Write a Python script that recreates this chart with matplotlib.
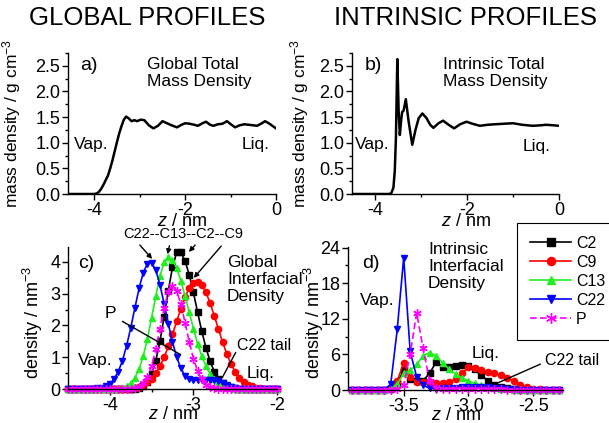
import matplotlib

matplotlib.use("Agg")

import matplotlib.pyplot as plt
from matplotlib.ticker import MultipleLocator

W, H = 609, 423

# ---- panel a: global total mass density (g/cm3) ----
z_a = [-4.58, -4.20, -4.00, -3.95, -3.90, -3.85, -3.80, -3.75, -3.70, -3.65,
       -3.60, -3.55, -3.50, -3.45, -3.40, -3.35, -3.30, -3.25, -3.18, -3.12,
       -3.06, -2.98, -2.90, -2.80, -2.70, -2.60, -2.50, -2.40, -2.30, -2.18,
       -2.08, -2.00, -1.90, -1.80, -1.72, -1.62, -1.54, -1.45, -1.38, -1.28,
       -1.18, -1.08, -0.98, -0.90, -0.80, -0.70, -0.60, -0.50, -0.42, -0.33,
       -0.24, -0.16, -0.08, 0.00]
rho_a = [0.00, 0.00, 0.00, 0.01, 0.04, 0.10, 0.18, 0.27, 0.36, 0.50,
         0.66, 0.84, 1.02, 1.19, 1.33, 1.45, 1.51, 1.48, 1.42, 1.44,
         1.42, 1.45, 1.44, 1.34, 1.28, 1.33, 1.42, 1.38, 1.34, 1.30,
         1.35, 1.38, 1.37, 1.35, 1.33, 1.38, 1.41, 1.35, 1.33, 1.36,
         1.37, 1.42, 1.35, 1.30, 1.34, 1.36, 1.35, 1.34, 1.33, 1.37,
         1.42, 1.38, 1.33, 1.28]

# ---- panel b: intrinsic total mass density (g/cm3) ----
z_b = [-4.50, -3.70, -3.65, -3.60, -3.57, -3.545, -3.515, -3.485, -3.46, -3.43,
       -3.41, -3.38, -3.33, -3.27, -3.19, -3.12, -3.05, -2.97, -2.88, -2.80,
       -2.73, -2.62, -2.52, -2.40, -2.28, -2.15, -2.01, -1.88, -1.72, -1.55,
       -1.40, -1.20, -1.00, -0.80, -0.57, -0.40, -0.28, -0.12, 0.00]
rho_b = [0.00, 0.00, 0.01, 0.12, 0.45, 1.10, 2.63, 1.60, 1.15, 1.45,
         1.60, 1.62, 1.85, 1.42, 0.96, 1.25, 1.48, 1.57, 1.48, 1.35,
         1.29, 1.38, 1.43, 1.35, 1.28, 1.36, 1.41, 1.37, 1.33, 1.35,
         1.36, 1.37, 1.38, 1.35, 1.33, 1.34, 1.35, 1.34, 1.33]

# ---- panel c: global interfacial density (nm^-3) ----
z_c = [-4.50, -4.45, -4.40, -4.35, -4.30, -4.25, -4.20, -4.15, -4.10, -4.05,
       -4.00, -3.95, -3.90, -3.85, -3.80, -3.75, -3.70, -3.65, -3.60, -3.55,
       -3.50, -3.45, -3.40, -3.35, -3.30, -3.25, -3.20, -3.15, -3.10, -3.05,
       -3.00, -2.95, -2.90, -2.85, -2.80, -2.75, -2.70, -2.65, -2.60, -2.55,
       -2.50, -2.45, -2.40, -2.35, -2.30, -2.25, -2.20, -2.15, -2.10, -2.05,
       -2.00]
c2_c = [0, 0, 0, 0, 0, 0, 0, 0, 0, 0,
        0, 0, 0, 0, 0, 0, 0.01, 0.04, 0.10, 0.23,
        0.48, 0.89, 1.50, 2.27, 3.10, 3.83, 4.30, 4.30, 4.03, 3.60,
        3.04, 2.42, 1.82, 1.30, 0.87, 0.55, 0.33, 0.19, 0.10, 0.05,
        0.02, 0, 0, 0, 0, 0, 0, 0, 0, 0,
        0]
c9_c = [0, 0, 0, 0, 0, 0, 0, 0, 0, 0,
        0, 0, 0, 0, 0.01, 0.02, 0.04, 0.07, 0.13, 0.21,
        0.33, 0.50, 0.72, 1.00, 1.34, 1.72, 2.13, 2.53, 2.89, 3.17,
        3.34, 3.38, 3.28, 3.04, 2.71, 2.30, 1.88, 1.47, 1.10, 0.78,
        0.54, 0.35, 0.22, 0.13, 0.08, 0.04, 0.02, 0.01, 0, 0,
        0]
c13_c = [0, 0, 0, 0, 0, 0, 0, 0, 0, 0,
         0, 0.01, 0.02, 0.04, 0.09, 0.18, 0.35, 0.63, 1.04, 1.58,
         2.24, 2.93, 3.56, 3.99, 4.15, 4.06, 3.80, 3.41, 2.93, 2.41,
         1.90, 1.43, 1.03, 0.72, 0.47, 0.30, 0.18, 0.10, 0.06, 0.03,
         0.01, 0, 0, 0, 0, 0, 0, 0, 0, 0,
         0]
c22_c = [0, 0, 0, 0, 0, 0, 0.01, 0.02, 0.04, 0.08,
         0.16, 0.31, 0.54, 0.88, 1.35, 1.92, 2.55, 3.17, 3.66, 3.95,
         3.98, 3.74, 3.28, 2.68, 2.05, 1.48, 1.00, 0.65, 0.42, 0.32,
         0.28, 0.27, 0.27, 0.28, 0.28, 0.27, 0.24, 0.18, 0.12, 0.07,
         0.03, 0.01, 0, 0, 0, 0, 0, 0, 0, 0,
         0]
p_c = [0, 0, 0, 0, 0, 0, 0, 0, 0, 0,
       0, 0, 0, 0, 0, 0, 0.03, 0.07, 0.18, 0.38,
       0.73, 1.25, 1.90, 2.56, 3.06, 3.25, 3.09, 2.67, 2.09, 1.49,
       0.96, 0.56, 0.30, 0.14, 0.06, 0.02, 0.01, 0, 0, 0,
       0, 0, 0, 0, 0, 0, 0, 0, 0, 0,
       0]

# ---- panel d: intrinsic interfacial density (nm^-3) ----
z_d = [-3.90, -3.85, -3.80, -3.75, -3.70, -3.65, -3.60, -3.55, -3.50, -3.45,
       -3.40, -3.35, -3.30, -3.25, -3.20, -3.15, -3.10, -3.05, -3.00, -2.95,
       -2.90, -2.85, -2.80, -2.75, -2.70, -2.65, -2.60, -2.55, -2.50, -2.45,
       -2.40, -2.35, -2.30]
c2_d = [0, 0, 0, 0, 0, 0, 0.2, 1.2, 3.3, 1.8,
        1.5, 1.6, 2.8, 4.7, 3.9, 3.8, 4.0, 4.2, 4.1, 3.6,
        2.5, 1.5, 0.9, 0.5, 0.3, 0.1, 0, 0, 0, 0,
        0, 0, 0]
c9_d = [0, 0, 0, 0, 0, 0, 0.3, 1.5, 4.6, 2.2,
        1.4, 1.3, 1.3, 1.2, 1.2, 1.3, 1.8, 2.8, 3.8, 3.7,
        3.3, 3.05, 2.8, 2.55, 2.1, 1.5, 0.9, 0.5, 0.25, 0.1,
        0, 0, 0]
c13_d = [0, 0, 0, 0, 0, 0, 0.3, 1.0, 2.8, 3.3,
         4.3, 5.8, 6.3, 5.8, 4.6, 3.5, 2.7, 2.0, 1.5, 1.1,
         0.8, 0.5, 0.3, 0.2, 0.1, 0, 0, 0, 0, 0,
         0, 0, 0]
c22_d = [0, 0, 0, 0, 0, 0, 1.0, 10.2, 22.3, 6.5,
         2.2, 0.8, 0.3, 0.25, 0.3, 0.35, 0.4, 0.45, 0.5, 0.5,
         0.5, 0.45, 0.4, 0.3, 0.2, 0.1, 0.05, 0, 0, 0,
         0, 0, 0]
p_d = [0, 0, 0, 0, 0, 0, 0, 0.2, 0.8, 6.0,
       13.0, 7.0, 1.5, 0.3, 0.1, 0.1, 0.1, 0.1, 0.1, 0.1,
       0.1, 0.1, 0.1, 0.1, 0.05, 0, 0, 0, 0, 0,
       0, 0, 0]

species = ["C2", "C9", "C13", "C22", "P"]
styles = {
    "C2": dict(color="#000000", marker="s", ms=4, ls="-"),
    "C9": dict(color="#ff0000", marker="o", ms=4.5, ls="-"),
    "C13": dict(color="#22ee22", marker="^", ms=4.5, ls="-"),
    "C22": dict(color="#0000ff", marker="v", ms=4.5, ls="-"),
    "P": dict(color="#ff00ff", marker=(6, 2, 0), ms=6, ls=(0, (4, 2))),
}


def px(x, y):
    return x / W, 1 - y / H


def make_ax(fig, left, top, right, bottom):
    ax = fig.add_axes([left / W, 1 - bottom / H, (right - left) / W, (bottom - top) / H])
    ax.spines["top"].set_visible(False)
    ax.spines["right"].set_visible(False)
    ax.tick_params(which="both", direction="out", labelsize=13, pad=1.5, width=1)
    ax.tick_params(which="major", length=4)
    ax.tick_params(which="minor", length=2)
    return ax


plt.rcParams.update(
    {
        "font.family": "Liberation Sans",
        "font.size": 13,
        "axes.unicode_minus": False,
        "mathtext.fontset": "custom",
        "mathtext.rm": "Liberation Sans",
        "mathtext.it": "Liberation Sans:italic",
        "axes.linewidth": 1.0,
    }
)

fig = plt.figure(figsize=(W / 100, H / 100), dpi=100)

ax_a = make_ax(fig, 68, 53, 276, 194)
ax_b = make_ax(fig, 352, 53, 559, 194)
ax_c = make_ax(fig, 68, 247, 277, 389)
ax_d = make_ax(fig, 348, 247, 563, 390)

# Panels a, b: total mass density
for ax, z, rho in [(ax_a, z_a, rho_a), (ax_b, z_b, rho_b)]:
    ax.plot(z, rho, color="black", lw=1.8)
    ax.set_ylim(0, 2.75)
    ax.xaxis.set_major_locator(MultipleLocator(2))
    ax.xaxis.set_minor_locator(MultipleLocator(1))
    ax.yaxis.set_major_locator(MultipleLocator(0.5))
    ax.yaxis.set_minor_locator(MultipleLocator(0.25))
    ax.set_ylabel("mass density / g cm$^{-3}$", fontsize=12.5)
    ax.set_xlabel("$z$ / nm", fontsize=13)
    ax.xaxis.set_label_coords(0.55, -0.135)
ax_a.set_xlim(-4.58, 0)
ax_b.set_xlim(-4.5, 0)
ax_a.yaxis.set_label_coords(-0.215, 0.5)
ax_b.yaxis.set_label_coords(-0.2, 0.5)

# Panels c, d: interfacial densities
series_c = dict(zip(species, [c2_c, c9_c, c13_c, c22_c, p_c]))
series_d = dict(zip(species, [c2_d, c9_d, c13_d, c22_d, p_d]))
handles = []
for name in species:
    st = styles[name]
    for ax, z, vals in [(ax_c, z_c, series_c[name]), (ax_d, z_d, series_d[name])]:
        (ln,) = ax.plot(
            z, vals, color=st["color"], marker=st["marker"], ms=st["ms"],
            ls=st["ls"], lw=1.2, mec=st["color"], mfc=st["color"], mew=1.0,
            clip_on=False, label=name,
        )
    handles.append(ln)

ax_c.set_xlim(-4.5, -2.0)
ax_c.set_ylim(0, 4.47)
ax_c.xaxis.set_major_locator(MultipleLocator(1))
ax_c.xaxis.set_minor_locator(MultipleLocator(0.5))
ax_c.yaxis.set_major_locator(MultipleLocator(1))
ax_c.yaxis.set_minor_locator(MultipleLocator(0.5))

ax_d.set_xlim(-3.93, -2.27)
ax_d.set_ylim(0, 24.1)
ax_d.xaxis.set_major_locator(MultipleLocator(0.5))
ax_d.xaxis.set_minor_locator(MultipleLocator(0.25))
ax_d.yaxis.set_major_locator(MultipleLocator(6))
ax_d.yaxis.set_minor_locator(MultipleLocator(3))

for ax in (ax_c, ax_d):
    ax.set_ylabel("density / nm$^{-3}$", fontsize=13)
    ax.set_xlabel("$z$ / nm", fontsize=13)
    ax.xaxis.set_label_coords(0.5, -0.12)
ax_c.yaxis.set_label_coords(-0.11, 0.47)
ax_d.yaxis.set_label_coords(-0.1, 0.47)

# Headings
fig.text(*px(147, 18), "GLOBAL PROFILES", ha="center", va="center", fontsize=18.5)
fig.text(*px(466, 18), "INTRINSIC PROFILES", ha="center", va="center", fontsize=18.5)

# Panel annotations (pixel positions)
notes = [
    (80, 66, "a)", 14, "center"),
    (147, 57, "Global Total\nMass Density", 12.5, "top"),
    (74, 145, "Vap.", 12.5, "center"),
    (242, 145, "Liq.", 12.5, "center"),
    (365, 66, "b)", 14, "center"),
    (443, 57, "Intrinsic Total\nMass Density", 12.5, "top"),
    (355, 145, "Vap.", 12.5, "center"),
    (523, 147, "Liq.", 12.5, "center"),
    (78, 263, "c)", 14, "center"),
    (123, 234, "C22--C13--C2--C9", 10.5, "center"),
    (227, 255, "Global\nInterfacial\nDensity", 12.5, "top"),
    (105, 313, "P", 12.5, "center"),
    (237, 345, "C22 tail", 11.5, "center"),
    (78, 360, "Vap.", 12.5, "center"),
    (247, 373, "Liq.", 12.5, "center"),
    (362, 264, "d)", 14, "center"),
    (428, 242, "Intrinsic\nInterfacial\nDensity", 12.5, "top"),
    (360, 300, "Vap.", 12.5, "center"),
    (472, 353, "Liq.", 12.5, "center"),
    (545, 360, "C22 tail", 11.5, "center"),
]
for x, y, s, fs, va in notes:
    fig.text(*px(x, y), s, ha="left", va=va, fontsize=fs, linespacing=1.15)

# Pointer arrows (start, end in pixels)
arrows = [
    ((138, 243), (154, 261), "-|>"),
    ((170, 243), (167, 257), "-|>"),
    ((197, 243), (187, 254), "-|>"),
    ((223, 244), (192, 280), "-|>"),
    ((120, 320), (183, 356), "-"),
    ((237, 350), (221, 380), "-"),
    ((543, 363), (493, 385), "-"),
]
for start, end, style in arrows:
    fig.add_artist(
        matplotlib.patches.FancyArrowPatch(
            px(*start), px(*end), transform=fig.transFigure,
            arrowstyle=style, mutation_scale=7, color="black", lw=1.0,
        )
    )

leg = fig.legend(
    handles, species, loc="upper left", bbox_to_anchor=px(517, 223),
    bbox_transform=fig.transFigure, fancybox=False, edgecolor="black",
    framealpha=1, fontsize=11.5, handlelength=2.6, handletextpad=0.3,
    labelspacing=0.25, borderpad=0.8, borderaxespad=0, markerscale=1.3,
)
leg.get_frame().set_linewidth(0.8)

fig.savefig("out.png", dpi=100)
